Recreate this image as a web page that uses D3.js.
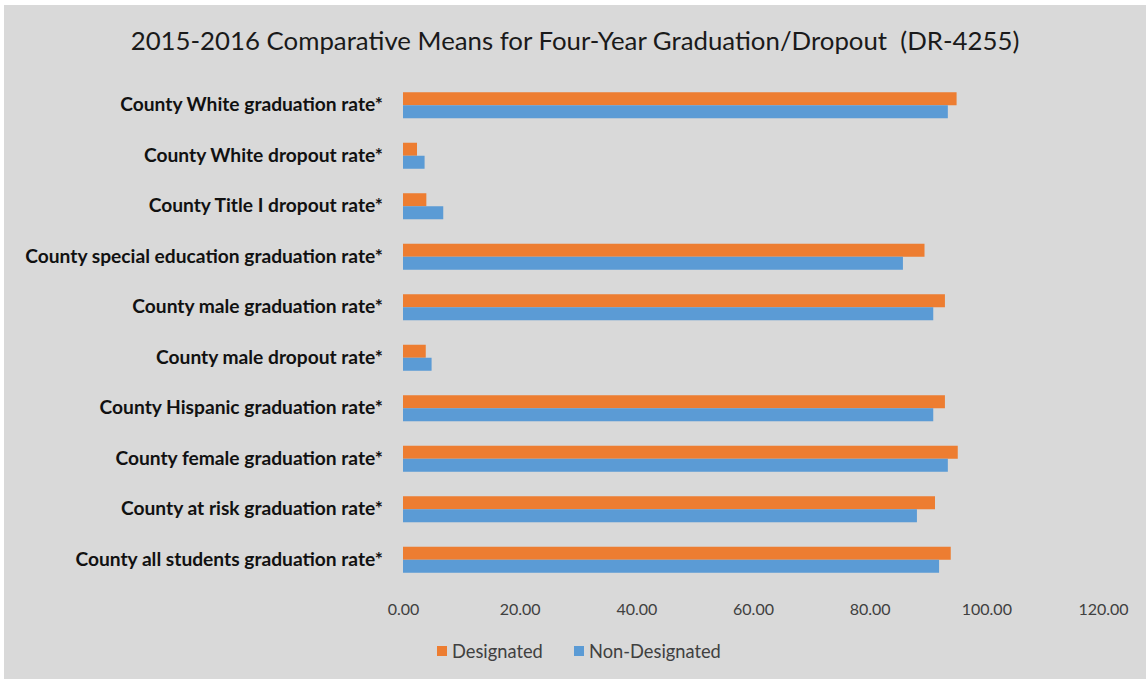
<!DOCTYPE html>
<html>
<head>
<meta charset="utf-8">
<script src="https://cdn.jsdelivr.net/npm/d3@7"></script>
<style>
  html, body { margin: 0; padding: 0; background: #ffffff; }
  svg { display: block; }
  text { font-family: Lato, "Open Sans", sans-serif; }
</style>
</head>
<body>
<svg id="chart" width="1146" height="679"></svg>
<script>
const title = "2015-2016 Comparative Means for Four-Year Graduation/Dropout  (DR-4255)";
const categories = [
  "County White graduation rate*",
  "County White dropout rate*",
  "County Title I dropout rate*",
  "County special education graduation rate*",
  "County male graduation rate*",
  "County male dropout rate*",
  "County Hispanic graduation rate*",
  "County female graduation rate*",
  "County at risk graduation rate*",
  "County all students graduation rate*"
];
const seriesNames = ["Designated", "Non-Designated"];
const designated    = [94.9, 2.4, 4.0, 89.4, 92.9, 3.9, 92.9, 95.1, 91.2, 93.9];
const nonDesignated = [93.4, 3.7, 6.9, 85.7, 90.9, 4.9, 90.9, 93.4, 88.1, 91.9];
const xTicks = [0, 20, 40, 60, 80, 100, 120];
const colors = ["#ED7D31", "#5B9BD5"];

const svg = d3.select("#chart");
svg.append("rect").attr("x", 4).attr("y", 5).attr("width", 1142).attr("height", 674).attr("fill", "#d9d9d9");

svg.append("text")
  .attr("x", 575).attr("y", 50)
  .attr("text-anchor", "middle")
  .attr("font-size", 25.8)
  .attr("fill", "#1a1a1a")
  .style("white-space", "pre")
  .text(title);

const x = d3.scaleLinear().domain([0, 120]).range([403, 1103]);
const y = d3.scaleBand().domain(categories).range([80, 585]).paddingInner(0.485).paddingOuter(0.2425);
const ySub = d3.scaleBand().domain(seriesNames).range([0, y.bandwidth()]);

const data = categories.map((c, i) => ({ cat: c, vals: [designated[i], nonDesignated[i]] }));

const groups = svg.append("g").selectAll("g").data(data).join("g")
  .attr("transform", d => `translate(0,${y(d.cat)})`);
groups.selectAll("rect").data(d => d.vals.map((v, j) => ({ v, s: seriesNames[j], j })))
  .join("rect")
  .attr("x", x(0))
  .attr("y", d => ySub(d.s))
  .attr("width", d => x(d.v) - x(0))
  .attr("height", ySub.bandwidth())
  .attr("fill", d => colors[d.j]);

// category axis labels
const yAxis = d3.axisLeft(y).tickSize(0).tickPadding(20);
const yg = svg.append("g").attr("transform", `translate(${x(0)},0)`).call(yAxis);
yg.select(".domain").remove();
yg.selectAll("text").attr("font-size", 19.2).attr("font-weight", "bold").attr("fill", "#111111")
  .style("font-family", "Lato, sans-serif");

// x axis
const xAxis = d3.axisBottom(x).tickValues(xTicks).tickFormat(d3.format(".2f")).tickSize(0).tickPadding(0);
const xg = svg.append("g").attr("transform", `translate(0,604)`).call(xAxis);
xg.select(".domain").remove();
xg.selectAll("text").attr("font-size", 16).attr("fill", "#404040").style("font-family", "Lato, sans-serif");

// legend
const legendX = [437, 574];
const legend = svg.append("g");
seriesNames.forEach((s, i) => {
  legend.append("rect").attr("x", legendX[i]).attr("y", 646).attr("width", 10).attr("height", 10).attr("fill", colors[i]);
  legend.append("text").attr("x", legendX[i] + 15).attr("y", 658).attr("font-size", 18.3).attr("fill", "#404040").text(s);
});
</script>
</body>
</html>
